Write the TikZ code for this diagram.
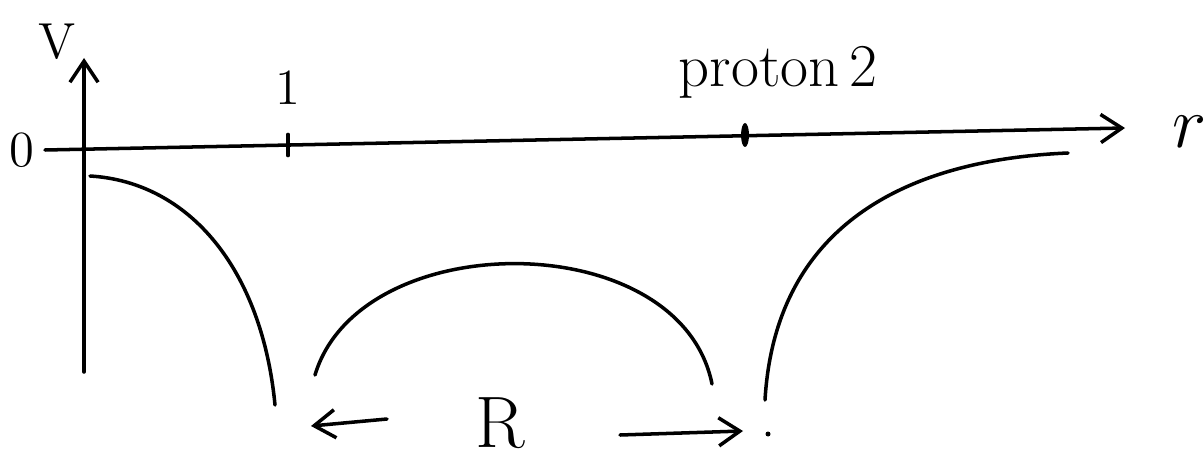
\documentclass[tikz,border=0pt]{standalone}
\usetikzlibrary{arrows.meta,positioning}

\begin{document}
\begin{tikzpicture}[x=0.01cm, y=-0.01cm,
  curve/.style={line width=1pt, line cap=round},
  axis/.style={line width=1pt, line cap=round, -{Straight Barb[length=6pt,width=8pt]}},
  lbl/.style={inner sep=0pt, font=\Large}
]
  \useasboundingbox (0,0) rectangle (1204,461);

  % axes
  \coordinate (vbot)   at (84,372);
  \coordinate (vtop)   at (84,58);
  \coordinate (rstart) at (45,150);
  \coordinate (rend)   at (1125,128);
  \draw[axis] (vbot) -- (vtop);
  \draw[axis] (rstart) -- (rend);

  \node[lbl]              (vlab)    at (57,42)   {V};
  \node[lbl]              (zero)    at (22,150)  {0};
  \node[lbl, font=\huge]  (rlab)    at (1190,132) {$r$};

  % protons on the axis
  \coordinate (p1) at (288,145);
  \coordinate (p2) at (745,135);
  \draw[curve] ([yshift=-3pt]p1) -- ([yshift=3pt]p1);
  \fill (p2) ellipse [x radius=4, y radius=12];
  \node[lbl, above=0.4cm of p1] (onelab) {1};
  \node[lbl, font=\LARGE, above=0.36cm of p2, xshift=0.33cm] (protlab) {proton\,2};

  % potential
  \draw[curve] (90,176) .. controls (190,182) and (262,270) .. (275,405);
  \draw[curve] (315,375) .. controls (360,225) and (680,225) .. (712,384);
  \draw[curve] (765,400) .. controls (775,230) and (900,160) .. (1068,153);

  % distance R
  \node[lbl, font=\huge] (Rlab) at (500,423) {R};
  \coordinate (la) at (387,419);
  \coordinate (lb) at (311,426);
  \coordinate (ra) at (620,435);
  \coordinate (rb) at (743,431);
  \draw[axis] (la) -- (lb);
  \draw[axis] (ra) -- (rb);
  \fill (768,434) circle [radius=2.5];
\end{tikzpicture}
\end{document}
